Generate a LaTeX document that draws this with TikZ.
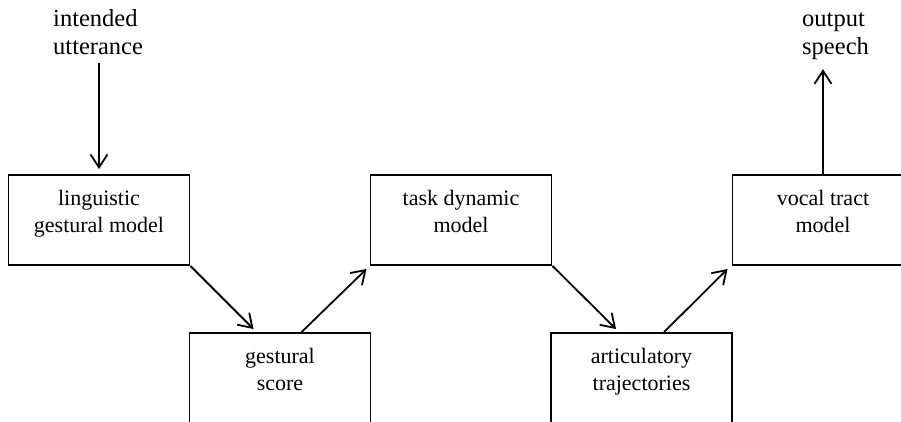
\documentclass[tikz,border=0pt]{standalone}
\usepackage{fontspec}
\setmainfont{Liberation Serif}
\usetikzlibrary{arrows.meta,calc}
\begin{document}
\begin{tikzpicture}[x=1pt,y=-1pt,
  box/.style={draw,line width=1.9pt,minimum width=181pt,minimum height=90pt,inner sep=0pt},
  boxtext/.style={font=\fontsize{22}{27}\selectfont,align=center,inner sep=0pt,anchor=north},
  ext/.style={font=\fontsize{24.5}{28}\selectfont,align=left,inner sep=0pt},
  arr/.style={line width=1.8pt,-{Straight Barb[length=13pt,width=17pt]}}]
\useasboundingbox (0,0) rectangle (901,421);
\clip (0,0) rectangle (901,421);
% boxes
\node[box] (b1) at (99,220) {};
\node[box] (b2) at (280,378) {};
\node[box] (b3) at (461,220) {};
\node[box] (b4) at (641.5,378) {};
\node[box] (b5) at (823,220) {};
% box texts
\node[boxtext] (t1) at (99,190) {linguistic\\gestural model};
\node[boxtext] (t2) at (280,348) {gestural\\score};
\node[boxtext] (t3) at (461,190) {task dynamic\\model};
\node[boxtext] (t4) at (641.5,348) {articulatory\\trajectories};
\node[boxtext] (t5) at (823,190) {vocal tract\\model};
% external labels
\node[ext,anchor=north west] (lab1) at (53,9.5) {intended\\utterance};
\node[ext,anchor=north west] (lab2) at (802,12.8) {output\\speech};
% connectors
\draw[arr,shorten <=8pt,shorten >=5pt] (b1.north |- lab1.south) -- (b1.north);
\draw[arr,shorten >=9pt] (b5.north) -- (b5.north |- lab2.south);
\draw[arr] (b1.south east) -- ([shift={(65pt,3pt)}]b2.north west);
\draw[arr] ([shift={(113pt,0pt)}]b2.north west) -- ([shift={(-3pt,-3pt)}]b3.south west);
\draw[arr] (b3.south east) -- ([shift={(66pt,3pt)}]b4.north west);
\draw[arr] ([shift={(114pt,0pt)}]b4.north west) -- ([shift={(-4pt,-3pt)}]b5.south west);
\end{tikzpicture}
\end{document}
